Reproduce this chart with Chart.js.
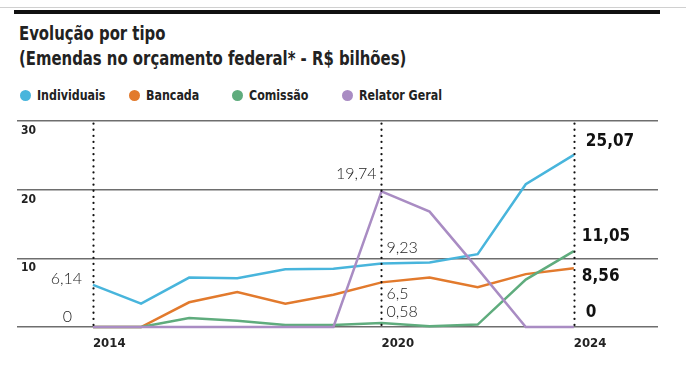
<!DOCTYPE html>
<html><head><meta charset="utf-8">
<script src="https://cdn.jsdelivr.net/npm/chart.js@4"></script>
<style>
html,body{margin:0;padding:0;background:#fff;}
#wrap{position:relative;width:686px;height:372px;overflow:hidden;font-family:'DejaVu Sans Condensed','Liberation Sans Narrow',Roboto,sans-serif;}
#gray{position:absolute;left:0;top:7px;width:686px;height:1px;background:#d0d0d0;}
#bar{position:absolute;left:14px;top:10px;width:646px;height:4px;background:#111;}
.tt{position:absolute;left:19px;font-size:19px;font-weight:bold;color:#222;white-space:nowrap;transform:scaleX(0.87);transform-origin:0 0;}
#t1{top:22px;}
#t2{top:47px;}
#legend{position:absolute;left:20px;top:86px;height:18px;}
.li{position:absolute;top:0;white-space:nowrap;font-size:14px;font-weight:bold;color:#222;line-height:18px;}
.li .tx{display:inline-block;transform:scaleX(0.88);transform-origin:0 50%;}
.dot{display:inline-block;width:11px;height:11px;border-radius:50%;vertical-align:-1px;margin-right:6px;}
canvas{position:absolute;left:0;top:0;}
</style></head>
<body><div id="wrap">
<div id="gray"></div><div id="bar"></div>
<div id="t1" class="tt">Evolução por tipo</div>
<div id="t2" class="tt">(Emendas no orçamento federal* - R$ bilhões)</div>
<div id="legend"></div>
<canvas id="c" width="686" height="372"></canvas>
</div>
<script>
const years = [2014,2015,2016,2017,2018,2019,2020,2021,2022,2023,2024];
const seriesNames = ['Individuais','Bancada','Comissão','Relator Geral'];
const individuais = [6.14,3.4,7.2,7.1,8.4,8.5,9.23,9.4,10.6,20.8,25.07];
const bancada = [0,0,3.6,5.1,3.4,4.7,6.5,7.2,5.8,7.7,8.56];
const comissao = [0,0,1.3,0.9,0.3,0.3,0.58,0.1,0.35,6.9,11.05];
const relator = [0,0,0,0,0,0,19.74,16.8,8.5,0,0];
const yTicks = [0,10,20,30];
const xTicks = [2014,2020,2024];
const colors = ['#48b5dc','#e27a2d','#5fac7d','#a98cc3'];

const allSeries = [individuais,bancada,comissao,relator];

const leg = document.getElementById('legend');
const legX = [0,109,212,322];
seriesNames.forEach((n,i)=>{
  const d=document.createElement('div');d.className='li';d.style.left=legX[i]+'px';
  d.innerHTML='<span class="dot" style="background:'+colors[i]+'"></span><span class="tx">'+n+'</span>';
  leg.appendChild(d);
});

const fmt = v => String(v).replace('.',',');

// value annotations: [seriesIndex, yearIndex, dx, dy, bold]  (dx<0: right-aligned text ending dx from the point)
const notes = [
  [0,0,-11,-6,false],
  [1,0,-21,-10,false],
  [3,6,-5,-18,false],
  [0,6,5,-16,false],
  [1,6,5,11,false],
  [2,6,5,-11,false],
  [0,10,12,-13,true],
  [2,10,8,-15,true],
  [1,10,8,8,true],
  [3,10,12,-14,true]
];

const overlay = {
  id:'overlay',
  afterDatasetsDraw(chart){
    const {ctx, scales:{x,y}} = chart;
    ctx.save();
    ctx.strokeStyle='#111';ctx.lineWidth=2.2;ctx.lineCap='round';ctx.setLineDash([0.1,6]);
    xTicks.forEach(t=>{
      const px=Math.round(x.getPixelForValue(t))+0.5;
      ctx.beginPath();ctx.moveTo(px,y.getPixelForValue(0)-2);ctx.lineTo(px,120);ctx.stroke();
    });
    ctx.setLineDash([]);
    ctx.textBaseline='middle';
    notes.forEach(([s,yi,dx,dy,bold])=>{
      const v=allSeries[s][yi];
      const px=x.getPixelForValue(years[yi]);
      const py=y.getPixelForValue(v)+dy;
      if(bold){
        ctx.font="bold 17px 'DejaVu Sans Condensed','Liberation Sans Narrow',Roboto,sans-serif";
        ctx.fillStyle='#111';
      } else {
        ctx.font="300 16px Lato,'Open Sans',sans-serif";
        ctx.fillStyle='#222';
      }
      ctx.textAlign = dx<0?'right':'left';
      ctx.fillText(fmt(v),px+dx,py);
    });
    ctx.restore();
  }
};

new Chart(document.getElementById('c'),{
  type:'line',
  data:{datasets: allSeries.map((arr,i)=>({
    label:seriesNames[i],
    data: years.map((yr,j)=>({x:yr,y:arr[j]})),
    borderColor:colors[i],backgroundColor:colors[i],
    borderWidth:2.5,pointRadius:0,tension:0,clip:false,
    order: i===3?0:4-i
  }))},
  options:{
    responsive:false,animation:false,
    layout:{padding:{left:17,right:28,top:121,bottom:0}},
    plugins:{legend:{display:false},tooltip:{enabled:false}},
    scales:{
      x:{type:'linear',min:2012.42,max:2025.75,
        afterBuildTicks(s){s.ticks=xTicks.map(v=>({value:v}));},
        afterFit(s){s.height=45;},
        grid:{display:false,drawTicks:false},border:{display:false},
        ticks:{align:'start',padding:9,color:'#222',font:{family:"'DejaVu Sans Condensed','Liberation Sans Narrow',Roboto,sans-serif",size:13,weight:'bold'},
          callback:v=>String(v)}
      },
      y:{min:0,max:30,
        afterBuildTicks(s){s.ticks=yTicks.map(v=>({value:v}));},
        afterFit(s){s.width=0;},
        grid:{color:'#6e6e6e',lineWidth:1.5,drawTicks:false},border:{display:false},
        ticks:{mirror:true,padding:4,labelOffset:10,color:'#222',font:{family:"'DejaVu Sans Condensed','Liberation Sans Narrow',Roboto,sans-serif",size:12,weight:'bold'},
          callback:v=>v===0?'':String(v)}
      }
    }
  },
  plugins:[overlay]
});
</script>
</body></html>
